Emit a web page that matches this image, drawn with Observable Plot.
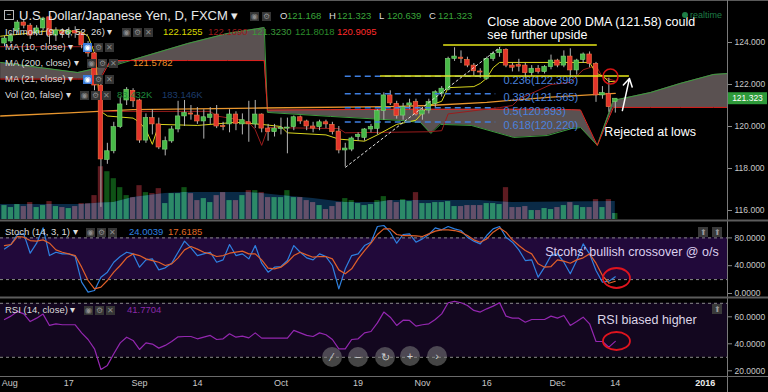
<!DOCTYPE html>
<html><head><meta charset="utf-8">
<script src="https://cdn.jsdelivr.net/npm/d3@7"></script>
<script src="https://cdn.jsdelivr.net/npm/@observablehq/plot@0.6"></script>
<style>
body{margin:0;background:#000;}
#wrap{position:relative;width:768px;height:392px;background:#000;overflow:hidden;font-family:Arial,"Liberation Sans",sans-serif;}
#wrap svg{position:absolute;left:0;}
.lg{position:absolute;white-space:nowrap;line-height:1;}
.ic{position:absolute;width:9px;height:9px;font-size:8px;line-height:9px;text-align:center;}
</style></head><body><div id="wrap"></div><script>
// ---------- DATA ----------
const open = [123.95,124.05,124.57,124.95,124.80,124.43,124.67,125.20,124.33,124.50,124.40,124.55,124.43,123.86,123.48,121.95,118.41,118.82,119.97,121.24,121.70,121.24,119.33,120.40,120.10,118.90,119.29,119.86,120.48,120.62,120.52,120.24,120.41,120.57,120.02,120.10,120.57,120.10,120.20,120.10,120.57,119.90,119.73,119.88,119.90,119.97,120.44,120.24,120.00,119.97,120.20,120.08,119.76,118.86,118.90,119.50,119.46,119.86,119.89,120.73,121.48,121.08,120.52,121.00,121.16,120.57,120.76,121.08,121.56,121.75,123.22,123.28,123.17,122.90,122.62,122.27,123.22,123.49,123.65,122.90,122.92,122.90,122.54,122.75,122.59,122.83,123.14,122.90,123.33,122.67,123.17,123.43,122.98,121.48,121.56,121.168];
const high = [124.30,124.45,125.05,125.10,124.90,124.80,125.20,125.28,124.70,124.65,124.70,124.75,124.55,124.05,123.55,122.05,119.20,120.20,121.40,121.85,121.80,121.30,120.60,120.80,120.40,119.50,120.00,121.20,121.24,121.00,120.90,120.80,120.90,121.00,120.20,120.80,120.70,120.60,121.20,121.24,120.60,120.10,120.10,120.40,120.40,120.50,120.50,120.30,120.20,120.30,120.30,120.20,120.00,119.20,119.50,119.70,119.90,120.10,120.80,121.60,121.70,121.20,121.10,121.30,121.30,120.90,121.30,121.70,121.90,123.30,123.75,123.60,123.30,123.00,122.75,123.30,123.55,123.76,123.70,123.00,123.20,123.00,122.90,122.90,122.90,123.40,123.20,123.60,123.70,123.20,123.50,123.55,123.05,121.90,122.30,121.323];
const low = [123.80,123.95,124.45,124.65,124.15,124.30,124.55,123.90,124.05,124.20,124.20,124.20,123.70,123.30,121.70,116.15,118.20,118.70,119.90,121.00,120.90,119.20,119.20,119.60,118.90,118.60,119.20,119.70,120.00,120.30,120.10,119.40,120.10,119.90,119.80,119.70,119.80,119.60,119.25,119.90,119.70,119.30,119.50,119.60,118.70,119.80,120.10,119.80,119.70,119.80,119.90,119.60,118.70,118.07,118.80,119.30,119.30,119.70,119.60,120.30,121.00,120.35,120.30,120.80,120.50,120.30,120.60,120.90,121.40,121.70,123.10,123.00,122.80,122.40,122.30,122.20,123.10,123.30,122.80,122.60,122.60,122.30,122.40,122.50,122.50,122.70,122.80,122.80,122.30,122.45,123.00,122.80,121.15,121.30,120.68,120.639];
const close = [124.19,124.30,124.95,124.80,124.33,124.67,125.14,124.33,124.57,124.40,124.55,124.43,123.86,123.48,121.95,118.43,118.82,119.97,121.05,121.75,121.20,119.33,120.40,120.10,119.00,119.30,119.86,120.48,120.64,120.58,120.24,120.44,120.57,120.00,119.98,120.57,120.13,120.30,120.10,120.57,119.90,119.73,119.90,119.93,119.93,120.44,120.24,120.00,119.90,120.20,120.10,119.73,118.86,118.95,119.43,119.60,119.86,119.97,120.73,121.48,121.10,120.50,120.92,121.10,120.57,120.76,121.16,121.63,121.80,123.22,123.33,123.22,122.90,122.63,122.58,123.22,123.46,123.65,122.90,122.80,122.85,122.54,122.75,122.60,122.83,123.14,122.90,123.33,122.67,123.14,123.43,122.98,121.48,121.59,120.92,121.323];
const volumeK = [140,120,150,130,170,120,140,180,130,120,110,130,160,160,240,530,480,410,320,240,220,340,270,260,310,160,260,260,320,260,190,210,170,240,270,190,190,240,290,290,270,220,220,220,290,220,220,190,170,140,100,130,170,210,190,160,140,150,190,230,190,170,200,180,270,160,160,170,170,180,130,130,140,140,140,160,160,150,320,120,120,130,90,90,110,100,120,140,170,140,120,120,200,120,200,60];
const volMaIdx = [-0.6,12,15,17,20,25,28,38,40,43,48,53,58,60,74,79,95];
const volMaK   = [150,150,165,170,220,260,270,270,260,240,210,170,170,190,190,170,180];

// Ichimoku / MA lines: [bar index], [price]
const cloudIdx = [-0.6,11.4,14.9,16.5,17,21.2,28.5,34.7,40.4,40.9,50.7,61.6,64.7,66.3,67.8,72.6,79.2,84.4,88.2,89.6,92.2,94.7,100.5,105.1,110.3,112.45];
const leadA    = [123.05,122.57,122.81,122.88,122.9,123.29,123.95,124.43,124.71,120.67,120.48,120.29,120.19,119.67,120.1,120.05,119.48,119.57,119.9,119.95,119.1,121.24,121.62,122.05,122.48,122.52];
const leadB    = [122.26,122.26,122.26,123.14,123.14,123.14,123.14,123.14,123.14,120.78,120.8,120.82,120.82,120.82,120.82,120.82,120.82,120.82,120.8,120.78,119.1,120.91,120.91,120.91,120.91,120.91];
const tenkanIdx = [-0.6,4,8,12,13,14,15,16,20,21,22,23,24,30,36,40,43,44,50,52,56,58,61,64,66,68,69,73,74,75,76,77,91,92,93,94,95];
const tenkan    = [124.3,124.45,124.6,124.5,124.3,123.5,120.72,120.5,120.4,120.2,119.85,119.15,120.1,120.05,120.2,120.1,120.0,119.7,119.6,119.4,119.3,119.6,120.1,120.3,121.0,121.2,121.85,121.9,122.05,122.3,122.8,123.05,123.05,122.55,122.4,122.15,122.13];
const kijunIdx = [-0.6,14,15,32,33,37,38,39,40,41,52,53,66,68,69,77,79,80,85,88,90,92,93,95];
const kijun    = [123.8,123.8,120.72,120.72,120.5,120.3,120.2,119.85,119.1,119.95,119.9,119.7,119.75,119.8,120.6,120.9,121.0,121.3,122.0,122.1,122.7,122.9,122.35,122.17];
const ma200Idx = [-0.6,10,20,40,60,66,75,85,95];
const ma200    = [120.5,120.65,120.8,120.88,120.95,121.0,121.15,121.4,121.58];

const stochK = [64.2,70.5,84.9,85.8,58.0,72.4,94.4,54.6,59.4,57.0,57.0,53.2,16.3,1.9,4.3,23.5,30.7,45.0,53.2,59.4,57.0,37.9,48.4,49.8,34.0,36.9,43.6,59.4,75.3,65.7,54.6,57.0,59.4,45.0,48.4,70.5,54.6,57.0,49.8,69.0,43.6,30.7,37.9,38.8,47.4,69.0,59.4,51.3,48.4,57.0,53.2,40.3,6.7,35.5,54.6,57.0,69.0,73.8,96.4,97.8,88.2,72.4,84.9,85.8,73.8,78.6,84.9,94.4,91.6,96.4,93.0,90.6,81.0,75.3,71.4,83.4,93.0,96.4,81.0,73.8,62.8,47.4,48.4,23.5,37.9,54.6,57.0,45.0,28.3,47.4,71.4,57.0,33.1,16.3,17.7,24.0];
const stochD = [69.0,70.5,82.0,81.0,76.2,75.3,77.2,72.4,62.8,59.4,57.0,54.6,37.9,18.7,6.7,9.1,18.7,30.7,40.3,51.3,57.0,54.6,49.8,47.4,45.0,40.3,42.7,51.3,62.8,67.6,63.8,59.4,57.0,53.2,54.6,58.0,59.4,60.9,57.0,57.0,48.4,36.4,35.5,37.9,45.0,54.6,59.4,55.6,52.2,53.2,53.2,49.8,34.0,28.3,35.5,49.8,61.8,72.4,84.9,93.0,93.0,84.9,83.4,83.4,82.9,82.0,85.8,89.7,91.6,91.6,90.6,88.2,83.4,77.2,73.8,78.6,88.2,94.4,88.2,77.2,69.0,61.8,57.0,42.7,37.9,38.8,48.4,46.5,43.6,48.4,51.3,57.0,43.6,25.9,14.8,17.6];
const rsi = [58.0,60.5,64.0,62.2,56.5,59.0,62.0,53.6,54.8,54.1,54.1,54.1,48.1,43.2,36.3,21.0,24.0,32.6,40.7,44.9,42.5,35.8,40.7,39.8,36.8,38.8,41.7,45.2,45.4,45.4,43.7,44.9,46.2,43.2,43.7,47.4,44.9,45.7,44.4,48.1,44.2,44.2,44.2,44.2,44.2,49.9,48.1,46.2,45.4,48.1,46.7,43.2,36.3,36.3,43.2,43.7,48.1,49.1,55.5,63.5,59.7,53.6,57.5,57.3,53.1,54.1,54.8,58.0,62.2,70.4,71.4,70.4,68.4,64.7,63.5,65.9,67.9,70.4,60.5,59.0,59.0,56.0,58.0,58.0,58.0,60.5,59.0,61.0,53.6,56.5,59.7,54.8,41.7,41.7,37.5,41.8];

// axis ticks
const priceTicks = [116,118,120,122,124];
const stochTicks = [0,40,80];
const rsiTicks = [20,40,60];
const dateTickIdx = [0.8,10,21,30,43,55,65,75,86,95,109];
const dateTickLabels = ["Aug","17","Sep","14","Oct","19","Nov","16","Dec","14","2016"];

// drawings
const fibLevels = [122.396,121.565,120.893,120.220];
const fibLabels = ["0.236(122.396)","0.382(121.565)","0.5(120.893)","0.618(120.220)"];
const fibFrom = 53, fibTo = 76.4, fibLabelAt = 77.6;
const hLevels = [123.88,122.40], hFrom = [68.3,58.5], hTo = [92.2,97.2];
const trend = {x1:53, y1:118.05, x2:77.1, y2:123.78};
const arrowUp = {x1:96.1, y1:120.76, x2:97.2, y2:122.29};
const circleAt = {x:94.25, y:122.38};
const noteMain = {x:75.1, y:124.69, text:"Close above 200 DMA (121.58) could\nsee further upside"};
const noteLows = {x:93.3, y:119.76, text:"Rejected at lows"};
const noteStoch = {x:84.1, y:60.4, text:"Stcohs' bullish crossover @ o/s"};
const noteRsi = {x:92.2, y:58, text:"RSI biased higher"};
const stochRing = {x:95.26, y:21.6}, rsiRing = {x:95.26, y:41.7};

// ---------- BUILD ----------
const wrap = document.getElementById("wrap");
const FONT = "Arial, 'Liberation Sans', sans-serif";
const XDOM = [-0.62, 112.45], XR = [0, 727];
const bars = open.map((o,i)=>({i, o, h:high[i], l:low[i], c:close[i], v:volumeK[i], up: close[i] >= o}));
const ups = bars.filter(d=>d.up), downs = bars.filter(d=>!d.up);
const bodyEnd = d => Math.abs(d.c - d.o) < 0.05 ? d.o + (d.up ? 0.05 : -0.05) : d.c;
const style = {background:"transparent", color:"#c8c8c8", fontFamily:FONT, fontSize:"8.5px", overflow:"visible", maxWidth:"none"};
function place(svg, top){ svg.style.position="absolute"; svg.style.top=top+"px"; svg.style.left="0px"; wrap.appendChild(svg); return svg; }
const bx1 = d=>d.i-0.5, bx2 = d=>d.i+0.5;

// volume: dark bars, MA area, light bars clipped to the MA area
const vol = place(Plot.plot({width:768, height:220, marginLeft:0, marginRight:41, marginTop:0, marginBottom:0, style,
  x:{domain:XDOM, range:XR, axis:null}, y:{domain:[0,2200], range:[219,0], axis:null},
  marks:[
    Plot.rect(ups, {x1:bx1, x2:bx2, y1:0, y2:"v", fill:"#0f5216", insetLeft:0.6, insetRight:0.6}),
    Plot.rect(downs, {x1:bx1, x2:bx2, y1:0, y2:"v", fill:"#5e1b21", insetLeft:0.6, insetRight:0.6}),
    Plot.areaY(volMaK, {x:volMaIdx, y1:0, y2:volMaK, fill:"#0a2a46"}),
    Plot.rect(ups, {x1:bx1, x2:bx2, y1:0, y2:"v", fill:"#2c8a68", insetLeft:0.6, insetRight:0.6}),
    Plot.rect(downs, {x1:bx1, x2:bx2, y1:0, y2:"v", fill:"#64506a", insetLeft:0.6, insetRight:0.6})
  ]}), 0);
try {
  const groups = Array.from(vol.children).filter(n => n.tagName.toLowerCase() === "g");
  const areaG = groups[2];
  const areaPath = areaG ? areaG.querySelector("path") : null;
  if (areaPath) {
    const s = d3.select(vol);
    const cp = s.append("defs").append("clipPath").attr("id","maClip").attr("clipPathUnits","userSpaceOnUse");
    const cpp = cp.append("path").attr("d", areaPath.getAttribute("d"));
    const t = areaG.getAttribute("transform");
    if (t) cpp.attr("transform", t);
    const holder = s.append("g").attr("clip-path","url(#maClip)");
    [groups[3], groups[4]].forEach(g => { if (g) holder.node().appendChild(g); });
  }
} catch(e) {}

// price
const main = place(Plot.plot({width:768, height:220, marginLeft:0, marginRight:41, marginTop:0, marginBottom:0, style,
  x:{domain:XDOM, range:XR, axis:null}, y:{domain:[115.524,126.0], range:[220,0]},
  marks:[
    Plot.areaY(cloudIdx, {x:cloudIdx, y1:leadA, y2:leadB, fill:"#5a5151"}),
    Plot.line(cloudIdx, {x:cloudIdx, y:leadA, stroke:"#3e9c3e", strokeWidth:1}),
    Plot.line(cloudIdx, {x:cloudIdx, y:leadB, stroke:"#e3231f", strokeWidth:1}),
    Plot.line(ma200, {x:ma200Idx, y:ma200, stroke:"#e8962e", strokeWidth:1.3}),
    Plot.line(kijun, {x:kijunIdx, y:kijun, stroke:"#9a1c1c", strokeWidth:1}),
    Plot.line(tenkan, {x:tenkanIdx, y:tenkan, stroke:"#d9d61e", strokeWidth:1}),
    Plot.ruleX(bars, {x:"i", y1:"l", y2:"h", stroke:"#b4b4b4", strokeWidth:1}),
    Plot.rect(ups, {x1:bx1, x2:bx2, y1:"o", y2:bodyEnd, insetLeft:0.95, insetRight:0.95, fill:"#47b947", stroke:"#7fd57a", strokeWidth:0.6}),
    Plot.rect(downs, {x1:bx1, x2:bx2, y1:"o", y2:bodyEnd, insetLeft:0.95, insetRight:0.95, fill:"#e3342b", stroke:"#f47a45", strokeWidth:0.6}),
    Plot.ruleY(fibLevels, {y:d=>d, x1:fibFrom, x2:fibTo, stroke:"#3f7fe0", strokeWidth:1.5, strokeDasharray:"6,4"}),
    Plot.text(fibLevels, {y:d=>d, x:fibLabelAt, dy:4, text:(d,k)=>fibLabels[k], fill:"#4a82de", fontSize:11, textAnchor:"start"}),
    Plot.ruleY(hLevels, {y:d=>d, x1:hFrom, x2:hTo, stroke:"#e6e617", strokeWidth:1.5}),
    Plot.link([trend], {x1:"x1", y1:"y1", x2:"x2", y2:"y2", stroke:"#e0e0e0", strokeWidth:1, strokeDasharray:"3,2"}),
    Plot.arrow([arrowUp], {x1:"x1", y1:"y1", x2:"x2", y2:"y2", stroke:"white", strokeWidth:1.5, headLength:9}),
    Plot.dot([circleAt], {x:"x", y:"y", r:7.5, stroke:"#d41414", strokeWidth:1.6, fill:"none"}),
    Plot.text([noteMain], {x:"x", y:"y", text:"text", fill:"white", fontSize:12.5, textAnchor:"start", lineHeight:1.04}),
    Plot.text([noteLows], {x:"x", y:"y", text:"text", fill:"white", fontSize:12.5, textAnchor:"start"}),
    Plot.axisY({anchor:"right", label:null, ticks:priceTicks, tickFormat:d=>d.toFixed(3), tickSize:4, tickPadding:3, fontSize:8.5, stroke:"#8a8a8a"})
  ]}), 0);
const ySc = main.scale("y");

// stochastic
const stoch = place(Plot.plot({width:768, height:76, marginLeft:0, marginRight:41, marginTop:0, marginBottom:0, style,
  x:{domain:XDOM, range:XR, axis:null}, y:{domain:[0,100], range:[72,2.5]},
  marks:[
    Plot.rect([0], {x1:XDOM[0], x2:XDOM[1], y1:20, y2:80, fill:"#21093a"}),
    Plot.ruleY([20,80], {stroke:"#8a8a8a", strokeDasharray:"3,3"}),
    Plot.line(stochK, {x:(d,k)=>k, y:d=>d, stroke:"#2f80e0", strokeWidth:1.2}),
    Plot.line(stochD, {x:(d,k)=>k, y:d=>d, stroke:"#e0602a", strokeWidth:1.2}),
    Plot.text([noteStoch], {x:"x", y:"y", text:"text", fill:"#dccfee", fontSize:12.5, textAnchor:"start"}),
    Plot.axisY({anchor:"right", label:null, ticks:stochTicks, tickFormat:d=>d.toFixed(4), tickSize:4, tickPadding:3, fontSize:8.5, stroke:"#8a8a8a"})
  ]}), 221);

// RSI
const rsiP = place(Plot.plot({width:768, height:94, marginLeft:0, marginRight:41, marginTop:0, marginBottom:16, style,
  x:{domain:XDOM, range:XR}, y:{domain:[20,70], range:[72.3,4.8]},
  marks:[
    Plot.rect([0], {x1:XDOM[0], x2:XDOM[1], y1:30, y2:70, fill:"#13071f"}),
    Plot.ruleY([30,70], {stroke:"#8a8a8a", strokeDasharray:"3,3"}),
    Plot.line(rsi, {x:(d,k)=>k, y:d=>d, stroke:"#9427b0", strokeWidth:1.2}),
    Plot.text([noteRsi], {x:"x", y:"y", text:"text", fill:"#ddd6e8", fontSize:12.5, textAnchor:"start"}),
    Plot.axisY({anchor:"right", label:null, ticks:rsiTicks, tickFormat:d=>d.toFixed(4), tickSize:4, tickPadding:3, fontSize:8.5, stroke:"#8a8a8a"}),
    Plot.axisX({anchor:"bottom", label:null, ticks:dateTickIdx, tickFormat:d=>dateTickLabels[dateTickIdx.indexOf(d)], tickSize:0, tickPadding:3, fontSize:9})
  ]}), 298);
d3.select(rsiP).selectAll("text").filter(function(){return this.textContent==="2016";}).attr("font-weight","bold").attr("fill","#eee");

// rings on indicator panels via the plots' own scales
function ring(svg, c, rx, ry){
  const sx = svg.scale("x"), sy = svg.scale("y");
  d3.select(svg).append("ellipse").attr("cx", sx.apply(c.x)).attr("cy", sy.apply(c.y)).attr("rx", rx).attr("ry", ry)
    .attr("fill","none").attr("stroke","#e0141e").attr("stroke-width",1.8);
}
ring(stoch, stochRing, 13.5, 10);
ring(rsiP, rsiRing, 13.5, 9);

// chrome (frame lines, buttons)
const ch = d3.select(wrap).append("svg").attr("width",768).attr("height",392).style("top","0px").style("position","absolute");
ch.append("line").attr("x1",0).attr("x2",768).attr("y1",0.5).attr("y2",0.5).attr("stroke","#5a5a5a");
ch.append("line").attr("x1",727.5).attr("x2",727.5).attr("y1",0).attr("y2",392).attr("stroke","#7a7a7a");
[220.5,297.5].forEach(y=>ch.append("line").attr("x1",0).attr("x2",768).attr("y1",y).attr("y2",y).attr("stroke","#5c5c5c").attr("stroke-width",2));
ch.append("line").attr("x1",0).attr("x2",768).attr("y1",376.5).attr("y2",376.5).attr("stroke","#6a6a6a");
const navs = [[332,357,"⁄"],[358,357,"−"],[385,357,"↻"],[410,356,"+"],[437,356,"›"]];
navs.forEach(([x,y,g])=>{ ch.append("circle").attr("cx",x).attr("cy",y).attr("r",10).attr("fill","rgba(125,125,125,0.55)");
  ch.append("text").attr("x",x).attr("y",y+4).attr("text-anchor","middle").attr("fill","#d0d0d0").attr("font-size",11).attr("font-family",FONT).text(g); });
[[698,227],[712,227],[712,304]].forEach(([x,y])=>{ ch.append("rect").attr("x",x).attr("y",y).attr("width",10).attr("height",10).attr("fill","#3a3a3a");
  ch.append("text").attr("x",x+5).attr("y",y+8).attr("text-anchor","middle").attr("fill","#999").attr("font-size",8).text("⬆"); });
// last price tag
const yLast = ySc.apply(close[close.length-1]);
ch.append("rect").attr("x",728).attr("y",yLast-6).attr("width",39).attr("height",12).attr("fill","#2e9a3a");
ch.append("text").attr("x",747.5).attr("y",yLast+3).attr("text-anchor","middle").attr("fill","#fff").attr("font-size",8.5).attr("font-family",FONT).text(close[close.length-1].toFixed(3));
ch.append("circle").attr("cx",685).attr("cy",15).attr("r",3).attr("fill","#1e7e46");

// legends
function lg(x, y, text, color, size=9.5, bold=false){
  const s=document.createElement("span"); s.className="lg"; s.textContent=text;
  s.style.left=x+"px"; s.style.top=(y-size*0.5)+"px"; s.style.fontSize=size+"px"; s.style.color=color;
  if(bold) s.style.fontWeight="bold"; wrap.appendChild(s);
}
function icon(x, y, g, bg="#353535", fg="#8a8a8a"){
  const s=document.createElement("span"); s.className="ic"; s.textContent=g;
  s.style.left=x+"px"; s.style.top=(y-4.5)+"px"; s.style.background=bg; s.style.color=fg; wrap.appendChild(s);
}
function icons(x, y, firstBlue=false){ icon(x,y,"◉", firstBlue?"#3a7ad8":"#353535", firstBlue?"#fff":"#8a8a8a"); icon(x+11,y,"⚙"); icon(x+22,y,"✕"); }
const box=document.createElement("span"); box.className="ic"; box.textContent="−";
Object.assign(box.style,{left:"4px",top:"10px",border:"1px solid #bbb",width:"8px",height:"8px",lineHeight:"8px",color:"#ddd"}); wrap.appendChild(box);
lg(19,15,"U.S. Dollar/Japanese Yen, D, FXCM ▾","#e8e8e8",13);
icon(250,16,"◉"); icon(262,16,"⚙");
lg(280,16,"O","#ddd"); lg(287,16,"121.168","#3aa63a"); lg(329,16,"H","#ddd"); lg(337,16,"121.323","#3aa63a");
lg(379,16,"L","#ddd"); lg(387,16,"120.639","#3aa63a"); lg(429,16,"C","#ddd"); lg(438,16,"121.323","#3aa63a");
lg(690,15,"realtime","#1e7e46",9);
lg(5,32,"Ichimoku (9, 26, 52, 26) ▾","#dcdcdc"); icons(122,32);
lg(163,32,"122.1255","#d8d800"); lg(208,32,"122.1690","#9a1a1a"); lg(252,32,"121.3230","#3a9a3a"); lg(295,32,"121.8018","#2a8a2a"); lg(337,32,"120.9095","#ff2a2a");
lg(5,47,"MA (10, close) ▾","#dcdcdc"); icons(83,47,true);
lg(5,63,"MA (200, close) ▾","#dcdcdc"); icons(87,63); lg(133,63,"121.5782","#f0902a");
lg(5,79,"MA (21, close) ▾","#dcdcdc"); icons(83,79,true);
lg(5,95,"Vol (20, false) ▾","#dcdcdc"); icons(80,95); lg(117,95,"83.432K","#1e8a3c"); lg(162,95,"183.146K","#1d3d6d");
lg(5,232,"Stoch (14, 3, 1) ▾","#dcdcdc"); icons(86,232); lg(129,232,"24.0039","#2f82e0"); lg(168,232,"17.6185","#e06a25");
lg(5,310,"RSI (14, close) ▾","#dcdcdc"); icons(84,310); lg(127,310,"41.7704","#8a2aa8");
</script></body></html>
